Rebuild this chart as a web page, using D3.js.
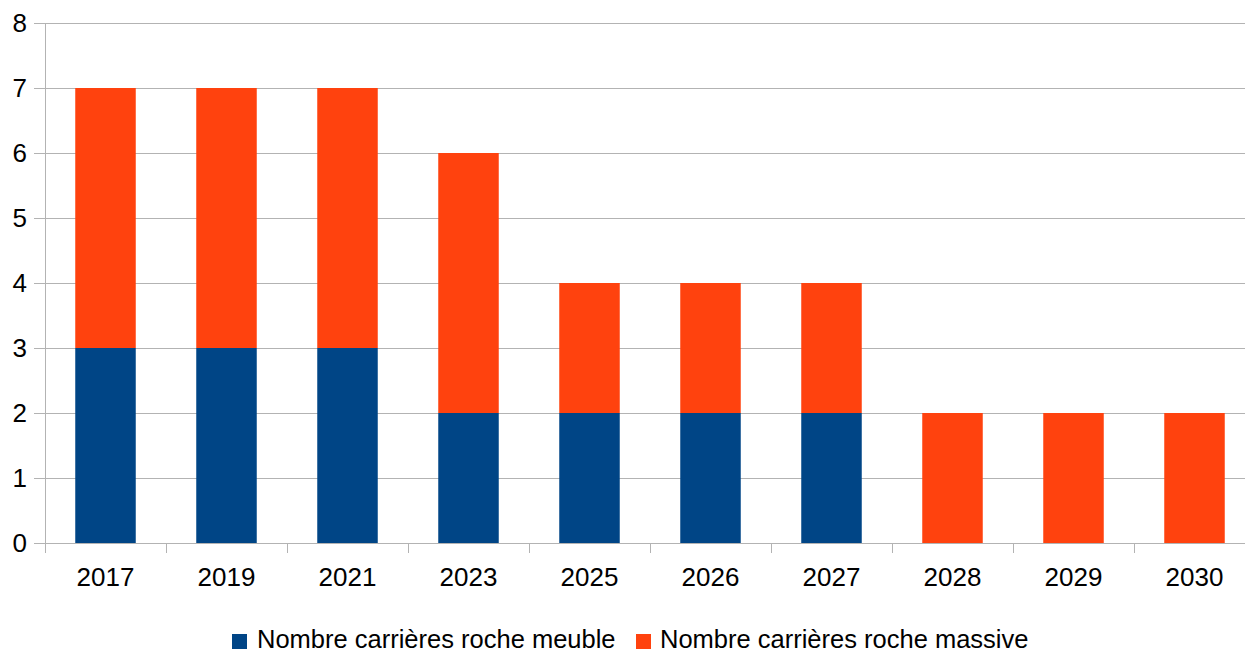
<!DOCTYPE html>
<html><head><meta charset="utf-8">
<script src="https://cdn.jsdelivr.net/npm/d3@7"></script>
<style>body{margin:0;background:#fff}svg{display:block}text{font-family:"Liberation Sans",Arial,sans-serif}</style>
</head><body><svg id="c" width="1245" height="653"></svg>
<script>
const categories = ["2017","2019","2021","2023","2025","2026","2027","2028","2029","2030"];
const meuble = [3,3,3,2,2,2,2,0,0,0];
const massive = [4,4,4,4,2,2,2,2,2,2];
const seriesNames = ["Nombre carrières roche meuble","Nombre carrières roche massive"];
const colors = ["#004586","#ff420e"];
const yTicks = [0,1,2,3,4,5,6,7,8];

const svg = d3.select("#c");
const mLeft = 45, mTop = 23, mBottom = 543, band = 121;
const x = d3.scaleBand().domain(categories).range([mLeft, mLeft + band*categories.length]).paddingInner(0.5).paddingOuter(0.25);
const y = d3.scaleLinear().domain([0,8]).range([mBottom, mTop]);

// gridlines
svg.append("g").selectAll("line").data(yTicks).join("line")
  .attr("x1", 34).attr("x2", 1245)
  .attr("y1", d => Math.round(y(d))+0.5).attr("y2", d => Math.round(y(d))+0.5)
  .attr("stroke", "#b3b3b3").attr("stroke-width", 1);

const data = categories.map((c,i)=>({cat:c, meuble:meuble[i], massive:massive[i]}));
const stack = d3.stack().keys(["meuble","massive"])(data);
svg.append("g").selectAll("g").data(stack).join("g")
  .attr("fill", (d,i)=>colors[i])
  .selectAll("rect").data(d=>d).join("rect")
  .attr("x", d=>x(d.data.cat)).attr("width", x.bandwidth())
  .attr("y", d=>y(d[1])).attr("height", d=>y(d[0])-y(d[1]));

// axes lines
svg.append("line").attr("x1", mLeft+0.5).attr("x2", mLeft+0.5).attr("y1", mTop).attr("y2", mBottom+10)
  .attr("stroke","#b3b3b3");
svg.append("line").attr("x1", 34).attr("x2", 1245).attr("y1", mBottom+0.5).attr("y2", mBottom+0.5)
  .attr("stroke","#b3b3b3");
// x ticks at band boundaries
svg.append("g").selectAll("line").data(categories.slice(1)).join("line")
  .attr("x1", d=>Math.round(x(d)-x.step()*0.25)+0.5).attr("x2", d=>Math.round(x(d)-x.step()*0.25)+0.5)
  .attr("y1", mBottom).attr("y2", mBottom+10).attr("stroke","#b3b3b3");

// y labels
svg.append("g").selectAll("text").data(yTicks).join("text")
  .attr("x", 27).attr("y", d=>y(d)+9).attr("text-anchor","end")
  .attr("font-size", 26).attr("fill","#000").text(d=>d);

// x labels
svg.append("g").selectAll("text").data(categories).join("text")
  .attr("x", d=>x(d)+x.bandwidth()/2).attr("y", 586).attr("text-anchor","middle")
  .attr("font-size", 26).attr("fill","#000").text(d=>d);

// legend
const lg = svg.append("g");
const items = [{x:232, tx:257},{x:636, tx:660}];
seriesNames.forEach((n,i)=>{
  lg.append("rect").attr("x", items[i].x).attr("y", 634).attr("width", 15).attr("height", 15).attr("fill", colors[i]);
  lg.append("text").attr("x", items[i].tx).attr("y", 647.5).attr("font-size", 25.5).attr("fill","#000").text(n);
});
</script></body></html>
